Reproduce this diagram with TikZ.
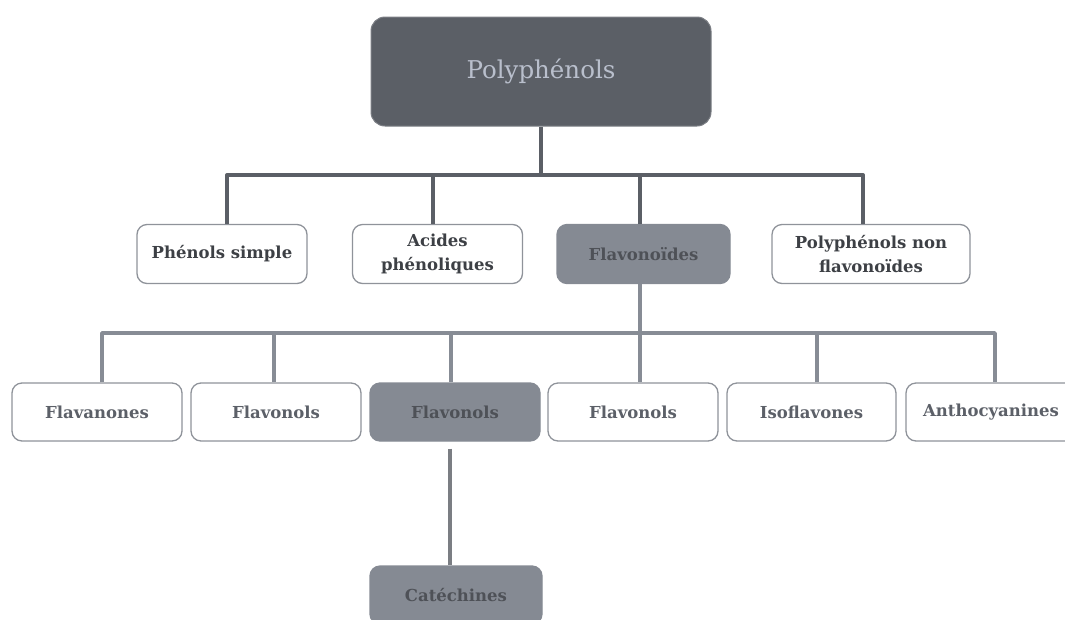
\documentclass[tikz,border=0pt]{standalone}
\usepackage{fontspec}
\setmainfont{DejaVu Serif}
\definecolor{topfill}{HTML}{5B5F66}
\definecolor{toptext}{HTML}{B9BFCC}
\definecolor{midfill}{HTML}{858A93}
\definecolor{boxline}{HTML}{8F939A}
\definecolor{darktext}{HTML}{3D4045}
\definecolor{lighttext}{HTML}{5C6068}
\definecolor{filltext}{HTML}{4E5157}
\definecolor{busone}{HTML}{5B5F66}
\definecolor{bustwo}{HTML}{878C95}
\definecolor{busthree}{HTML}{7B7E83}
\tikzset{
  topbox/.style={draw=topfill!80!white, line width=1pt, fill=topfill, rounded corners=14pt,
    minimum width=340pt, minimum height=109pt, text=toptext, font=\fontsize{24.5}{28}\selectfont, inner sep=0pt},
  wbox/.style={draw=boxline, line width=1.3pt, fill=white, rounded corners=10pt,
    minimum width=170pt, minimum height=59pt, inner sep=0pt, align=center,
    font=\bfseries\fontsize{16.5}{23.5}\selectfont},
  lvtwo/.style={wbox, text=darktext},
  lvthree/.style={wbox, text=lighttext, minimum height=58pt},
  gbox/.style={wbox, fill=midfill, draw=midfill, text=filltext},
  lone/.style={draw=busone, line width=4pt},
  ltwo/.style={draw=bustwo, line width=3.6pt},
  lthree/.style={draw=busthree, line width=3.6pt},
}
\begin{document}
\begin{tikzpicture}[x=1pt,y=-1pt]
\useasboundingbox (0,0) rectangle (1065,619);
% top
\node[topbox] (top) at (541,71.5) {Polyphénols};
% level 2
\node[lvtwo] (ps) at (222,254) {Phénols simple};
\node[lvtwo] (ac) at (437.5,254) {Acides\\phénoliques};
\node[gbox, minimum width=173pt] (fl) at (643.5,254) {Flavonoïdes};
\node[lvtwo, minimum width=198pt] (pn) at (871,254) {Polyphénols non\\flavonoïdes};
% level 3
\node[lvthree] (fa) at (97,412) {Flavanones};
\node[lvthree] (fo1) at (276,412) {Flavonols};
\node[gbox, minimum height=58pt] (fo2) at (455,412) {Flavonols};
\node[lvthree] (fo3) at (633,412) {Flavonols};
\node[lvthree, minimum width=169pt] (iso) at (811.5,412) {Isoflavones};
\node[lvthree] (an) at (991,412) {Anthocyanines};
% level 4
\node[gbox, minimum width=172pt, minimum height=58pt] (ca) at (456,595) {Catéchines};
% bus 1
\coordinate (b1) at (541,175);
\draw[lone] (top.south) -- (b1);
\draw[lone, line join=round] ([xshift=5pt]ps.north) -- ([xshift=5pt]ps.north |- b1)
  -- ([xshift=-8pt]pn.north |- b1) -- ([xshift=-8pt]pn.north);
\draw[lone] ([xshift=-4.5pt]ac.north) -- ([xshift=-4.5pt]ac.north |- b1);
\draw[lone] ([xshift=-3.5pt]fl.north) -- ([xshift=-3.5pt]fl.north |- b1);
% bus 2
\coordinate (b2) at (640,333);
\draw[ltwo] ([xshift=-3.5pt]fl.south) -- ([xshift=-3.5pt]fl.south |- fo3.north);
\draw[ltwo, line join=round] ([xshift=5pt]fa.north) -- ([xshift=5pt]fa.north |- b2)
  -- ([xshift=4pt]an.north |- b2) -- ([xshift=4pt]an.north);
\draw[ltwo] ([xshift=-2pt]fo1.north) -- ([xshift=-2pt]fo1.north |- b2);
\draw[ltwo] ([xshift=-4pt]fo2.north) -- ([xshift=-4pt]fo2.north |- b2);
\draw[ltwo] ([xshift=5.5pt]iso.north) -- ([xshift=5.5pt]iso.north |- b2);
% catechines
\draw[lthree] ([xshift=-5pt,yshift=-7pt]fo2.south) -- ([xshift=-6pt]ca.north);
\end{tikzpicture}
\end{document}
